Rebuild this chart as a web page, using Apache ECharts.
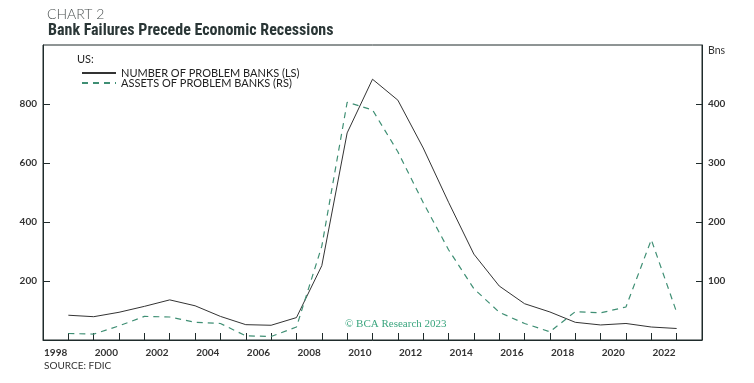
<!DOCTYPE html>
<html>
<head>
<meta charset="utf-8">
<script src="https://cdn.jsdelivr.net/npm/echarts@6/dist/echarts.min.js"></script>
<style>
html,body{margin:0;padding:0;background:#fff;}
#c{width:754px;height:383px;}
</style>
</head>
<body>
<div id="c"></div>
<script>
// Year-end annual data (plotted at end of each year)
const years = [1998,1999,2000,2001,2002,2003,2004,2005,2006,2007,2008,2009,2010,2011,2012,2013,2014,2015,2016,2017,2018,2019,2020,2021,2022];
const problemBanks = [84,79,94,114,136,116,80,52,50,76,252,702,884,813,651,467,291,183,123,95,60,51,56,44,39];
const problemAssets = [11,10,24,40,39,30,28,7,6,22,159,403,390,319,233,153,87,47,28,14,48,46,56,170,47];
const labelYears = ['1998','1999','2000','2001','2002','2003','2004','2005','2006','2007','2008','2009','2010','2011','2012','2013','2014','2015','2016','2017','2018','2019','2020','2021','2022','2023'];
const leftTicks = [200,400,600,800];
const rightTicks = [100,200,300,400];

const axisColor = '#1f2b2b';
const labelFont = 'Lato, "Open Sans", sans-serif';

const chart = echarts.init(document.getElementById('c'), null, {renderer:'canvas'});
chart.setOption({
  animation: false,
  backgroundColor: '#fff',
  grid: {left: 43, right: 52, top: 45, bottom: 43, show: true, borderColor: axisColor, borderWidth: 1},
  title: [
    {text: 'CHART 2', left: 42, top: 2, textStyle: {fontFamily: labelFont, fontWeight: 300, fontSize: 14, color: '#4a5050'}},
    {text: 'Bank Failures Precede Economic Recessions', left: 43, top: 18, textStyle: {fontFamily: '"Liberation Sans Narrow", "Roboto Condensed", Roboto, sans-serif', fontWeight: 'bold', fontSize: 16, color: '#2a3636'}}
  ],
  legend: {
    orient: 'vertical', left: 76, top: 62, itemWidth: 34, itemHeight: 8, itemGap: -2,
    itemStyle: {opacity: 0},
    textStyle: {fontFamily: labelFont, fontSize: 11, lineHeight: 12, color: '#222'},
    data: ['NUMBER OF PROBLEM BANKS (LS)', 'ASSETS OF PROBLEM BANKS (RS)']
  },
  graphic: [
    {type: 'text', left: 77, top: 54, style: {text: 'US:', font: '11px ' + labelFont, fill: '#222'}},
    {type: 'text', left: 44, top: 361, style: {text: 'SOURCE: FDIC', font: '10px ' + labelFont, fill: '#333'}},
    {type: 'text', left: 345, top: 319, style: {text: '© BCA Research 2023', font: '11px "Liberation Serif", "DejaVu Serif", serif', fill: '#3aa57e'}}
  ],
  xAxis: [
    {type: 'value', min: 1998, max: 2024, interval: 1,
      axisLine: {show: true, lineStyle: {color: axisColor}},
      axisTick: {show: true, inside: true, length: 7, lineStyle: {color: axisColor}},
      axisLabel: {show: false}, splitLine: {show: false}},
    {type: 'category', data: labelYears, boundaryGap: true, position: 'bottom',
      axisLine: {show: false}, axisTick: {show: false}, splitLine: {show: false},
      axisLabel: {interval: 1, margin: 8, fontFamily: labelFont, fontWeight: 'bold', fontSize: 10, color: '#333'}}
  ],
  yAxis: [
    {type: 'value', min: 0, max: 1000, interval: 200,
      axisLine: {show: true, lineStyle: {color: axisColor}},
      axisTick: {show: true, inside: true, length: 7, lineStyle: {color: axisColor},
        customValues: leftTicks},
      axisLabel: {margin: 6, fontFamily: labelFont, fontWeight: 'bold', fontSize: 10, color: '#333',
        customValues: leftTicks},
      splitLine: {show: false}},
    {type: 'value', min: 0, max: 500, interval: 100, position: 'right',
      name: 'Bns', nameLocation: 'end', nameGap: -6,
      nameTextStyle: {fontFamily: labelFont, fontSize: 10.5, color: '#333', align: 'left', padding: [0,0,6,6], verticalAlign: 'middle'},
      axisLine: {show: true, lineStyle: {color: axisColor}},
      axisTick: {show: true, inside: true, length: 6, lineStyle: {color: axisColor},
        customValues: rightTicks},
      axisLabel: {margin: 6, fontFamily: labelFont, fontWeight: 'bold', fontSize: 10, color: '#333',
        customValues: rightTicks},
      splitLine: {show: false}}
  ],
  series: [
    {name: 'NUMBER OF PROBLEM BANKS (LS)', type: 'line', xAxisIndex: 0, yAxisIndex: 0,
      showSymbol: false, symbol: 'none',
      lineStyle: {color: '#333', width: 1},
      itemStyle: {color: '#333'},
      data: years.map((y, i) => [y + 1, problemBanks[i]])},
    {name: 'ASSETS OF PROBLEM BANKS (RS)', type: 'line', xAxisIndex: 0, yAxisIndex: 1,
      showSymbol: false, symbol: 'none',
      lineStyle: {color: '#3f8f74', width: 1.2, type: [6, 5]},
      itemStyle: {color: '#3f8f74'},
      data: years.map((y, i) => [y + 1, problemAssets[i]])}
  ]
});
</script>
</body>
</html>
